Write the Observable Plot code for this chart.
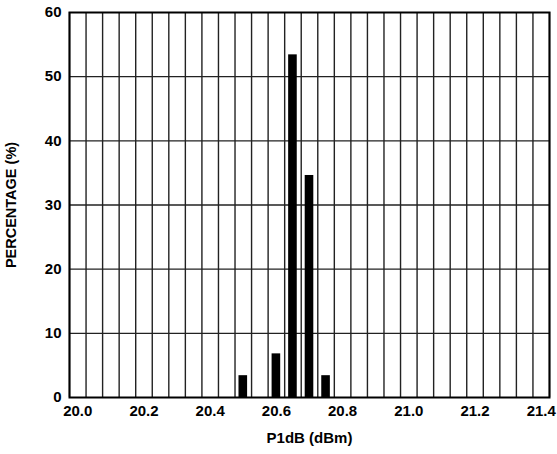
<!DOCTYPE html>
<html><head><meta charset="utf-8">
<script src="https://cdn.jsdelivr.net/npm/d3@7"></script>
<script src="https://cdn.jsdelivr.net/npm/@observablehq/plot@0.6"></script>
<style>body{margin:0;background:#fff} svg{display:block}</style>
</head><body><div id="chart"></div>
<script>
// Data
const p1dbValues = [20.5, 20.6, 20.65, 20.7, 20.75];
const percentages = [3.4, 6.8, 53.4, 34.6, 3.4];
const xTicks = [20.0, 20.2, 20.4, 20.6, 20.8, 21.0, 21.2, 21.4];
const yTicks = [0, 10, 20, 30, 40, 50, 60];
const yGrid = [10, 20, 30, 40, 50];
const binWidth = 0.05;
const xDomain = [19.975, 21.425];
const xLabel = "P1dB (dBm)";
const yLabel = "PERCENTAGE (%)";

const data = p1dbValues.map((x, i) => ({x, pct: percentages[i]}));
const binEdges = d3.range(0, Math.round((xDomain[1] - xDomain[0]) / binWidth) + 1)
  .map(k => +(xDomain[0] + k * binWidth).toFixed(4));
const barHalf = binWidth * 0.26;

const chart = Plot.plot({
  width: 557,
  height: 454,
  marginLeft: 69,
  marginRight: 8,
  marginTop: 12,
  marginBottom: 57,
  style: {fontFamily: "'Liberation Sans', Arial, sans-serif", fontSize: "15px", fontWeight: "bold", color: "black", background: "white"},
  x: {domain: xDomain},
  y: {domain: [0, 60]},
  marks: [
    Plot.ruleX(binEdges, {stroke: "#222", strokeWidth: 1.4}),
    Plot.ruleY(yGrid, {stroke: "#222", strokeWidth: 1.4}),
    Plot.rectY(data, {x1: d => d.x - barHalf, x2: d => d.x + barHalf, y: "pct", fill: "black"}),
    Plot.frame({stroke: "black", strokeWidth: 2}),
    Plot.axisX({ticks: xTicks, tickFormat: d => d.toFixed(1), tickSize: 0, tickPadding: 8, label: null}),
    Plot.axisY({ticks: yTicks, tickFormat: d => d, tickSize: 0, tickPadding: 8, label: null}),
    Plot.text([xLabel], {frameAnchor: "bottom", dy: 45, text: d => d, fontSize: 15, fontWeight: "bold", fill: "black"}),
    Plot.text([yLabel], {frameAnchor: "left", dx: -58, rotate: -90, textAnchor: "middle", text: d => d, fontSize: 14.5, fontWeight: "bold", fill: "black"})
  ]
});
document.getElementById("chart").appendChild(chart);
</script>
</body></html>
